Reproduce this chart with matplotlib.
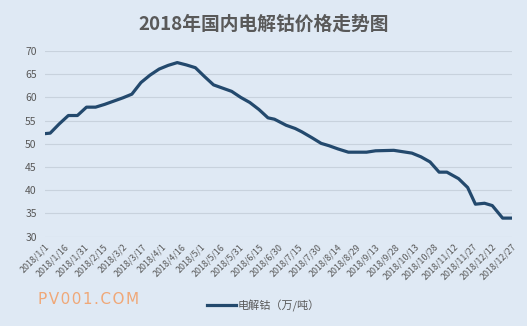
import numpy as np
import pandas as pd
import matplotlib
matplotlib.use('Agg')
import matplotlib.pyplot as plt
import matplotlib.dates as mdates

plt.rcParams['font.family'] = ['Noto Sans CJK SC', 'DejaVu Sans']

# weekly spot price of electrolytic cobalt, 2018 (10k yuan / ton)
dates = ['01-01', '01-05', '01-12', '01-19', '01-26', '02-02', '02-09', '02-16',
         '02-23', '03-02', '03-09', '03-16', '03-23', '03-30', '04-06', '04-13',
         '04-20', '04-27', '05-04', '05-11', '05-18', '05-25', '06-01', '06-08',
         '06-15', '06-22', '06-27', '07-06', '07-13', '07-18', '07-26', '08-02',
         '08-08', '08-15', '08-23', '09-06', '09-13', '09-27', '10-11', '10-18',
         '10-25', '11-01', '11-07', '11-16', '11-23', '11-29', '12-06', '12-12',
         '12-20', '12-27']
prices = [52.2, 52.3, 54.3, 56.1, 56.1, 57.9, 57.9, 58.5,
          59.2, 59.9, 60.7, 63.2, 64.8, 66.1, 66.9, 67.5,
          67.0, 66.4, 64.5, 62.7, 62.0, 61.3, 60.0, 58.9,
          57.4, 55.6, 55.3, 54.0, 53.3, 52.6, 51.3, 50.1,
          49.6, 48.9, 48.2, 48.2, 48.5, 48.6, 48.0, 47.2,
          46.1, 43.9, 43.9, 42.5, 40.6, 37.0, 37.2, 36.7,
          34.0, 34.0]
series_name = '电解钴（万/吨）'
title = '2018年国内电解钴价格走势图'

x = pd.to_datetime(['2018-' + d for d in dates])
tick_days = pd.date_range('2018-01-01', '2018-12-27', freq='15D')
tick_labels = ['2018/%d/%d' % (t.month, t.day) for t in tick_days]

bg = '#dfe9f4'
grey = '#595959'

fig = plt.figure(figsize=(5.27, 3.26), dpi=100, facecolor=bg)
ax = fig.add_axes([0.0854, 0.274, 0.8856, 0.5696], facecolor=bg)

ax.plot(x, prices, color='#23496d', lw=2.3, solid_joinstyle='round',
        label=series_name)

ax.set_ylim(30, 70)
ax.set_yticks(np.arange(30, 71, 5))
ax.set_xlim(tick_days[0], tick_days[-1])
ax.set_xticks(tick_days)
ax.set_xticklabels(tick_labels, rotation=45, ha='right', rotation_mode='anchor',
                   fontsize=6.4, color=grey)
ax.tick_params(axis='y', length=0, labelsize=7.5, labelcolor=grey, pad=6)
ax.tick_params(axis='x', length=0, pad=4)
ax.grid(axis='y', color='#c8d2dd', lw=0.8)
for s in ax.spines.values():
    s.set_visible(False)

fig.text(0.5, 0.925, title, ha='center', va='center', fontsize=13.5,
         fontweight='bold', color=grey)
# watermark, letters spaced out with hair spaces
fig.text(0.072, 0.08, '\u200a'.join('PV001.COM'), ha='left', va='center',
         fontsize=11, color='#f0a878', family='DejaVu Sans')
fig.legend(loc='center', bbox_to_anchor=(0.5, 0.062), frameon=False,
           fontsize=8, labelcolor=grey, handlelength=2.6, handletextpad=0.1)

fig.savefig('out.png', dpi=100, facecolor=bg)
